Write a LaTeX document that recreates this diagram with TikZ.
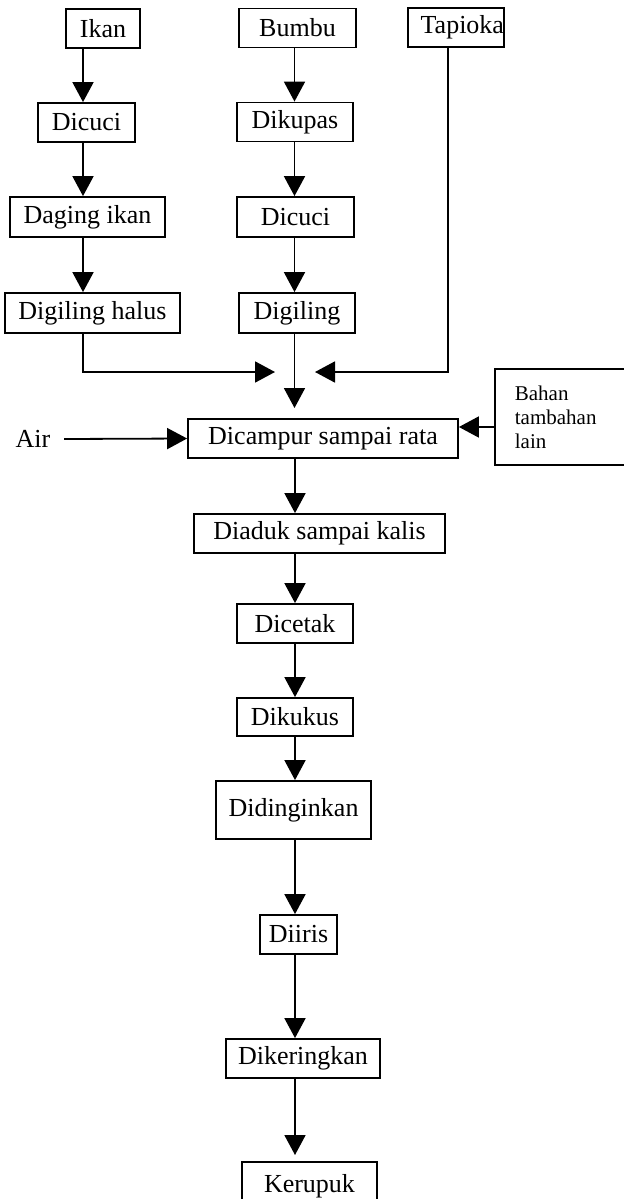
\documentclass[tikz,border=0pt]{standalone}
\usepackage{fontspec}
\setmainfont{Liberation Serif}
\usetikzlibrary{arrows.meta}
\tikzset{>={Triangle[length=10pt,width=10.5pt]}}
\tikzset{kotak/.style={draw, line width=0.9pt, inner sep=0pt, minimum height=19.5pt, font=\fontsize{13}{15}\selectfont}}

\begin{document}
\begin{tikzpicture}[x=0.5pt, y=-0.5pt, line width=0.9pt]
    \useasboundingbox (0,0) rectangle (623,1199);
    \coordinate (kiri) at (83,0);
    \coordinate (tengah) at (294.5,0);
    \coordinate (kanan) at (448,0);
    \coordinate (pusat) at (295,0);
    \node[kotak, minimum width=37pt] (ikan) at (103,28.5) {Ikan};
    \node[kotak, minimum width=48.5pt] (dicuci) at (86.5,122.5) {Dicuci};
    \node[kotak, minimum width=77.5pt, minimum height=20pt] (daging) at (87.5,217) {Daging ikan};
    \node[kotak, minimum width=87.5pt, minimum height=20pt] (halus) at (92.5,313) {Digiling halus};
    \node[kotak, minimum width=58.5pt] (bumbu) at (297.5,28) {Bumbu};
    \node[kotak, minimum width=58pt] (kupas) at (295,122) {Dikupas};
    \node[kotak, minimum width=58.5pt, minimum height=20pt] (cuci) at (295.5,217) {Dicuci};
    \node[kotak, minimum width=58pt, minimum height=20pt] (giling) at (297,313) {Digiling};
    \node[kotak, text width=48pt, align=right] (tapioka) at (456,27.5) {Tapioka};
    \node[kotak, minimum width=135pt] (campur) at (323,438.5) {Dicampur sampai rata};
    \node[font=\fontsize{13}{15}\selectfont, inner sep=0pt] (air) at (33,439) {Air};
    \node[draw, line width=0.9pt, anchor=west, minimum height=48pt, text width=64pt, inner xsep=10pt, align=left,
          font=\fontsize{10.5}{12}\selectfont] (bahan) at (494,417) {Bahan\\tambahan\\lain};
    \node[kotak, minimum width=125.5pt] (aduk) at (319.5,533.5) {Diaduk sampai kalis};
    \node[kotak, minimum width=58pt] (cetak) at (295,623.5) {Dicetak};
    \node[kotak, minimum width=58pt, minimum height=19pt] (kukus) at (295,717) {Dikukus};
    \node[kotak, minimum width=77.5pt, minimum height=29pt] (dingin) at (293.5,810) {Didinginkan};
    \node[kotak, minimum width=38.5pt] (iris) at (298.5,934.5) {Diiris};
    \node[kotak, minimum width=77pt] (kering) at (303,1058.5) {Dikeringkan};
    \node[kotak, minimum width=67.5pt, minimum height=24pt] (kerupuk) at (309.5,1186) {Kerupuk};
    \coordinate (ujungkiri) at (275,372);
    \coordinate (ujungkanan) at (315,372);
    \coordinate (ujungbawah) at (294.5,408);
    \coordinate (ujungakhir) at (295,1155);
    \coordinate (bahanpanah) at ([yshift=-5pt]bahan.west);
    \foreach \a/\b in {ikan/dicuci, dicuci/daging, daging/halus}
        \draw[->] (\a.south -| kiri) -- (\b.north -| kiri);
    \foreach \a/\b in {bumbu/kupas, kupas/cuci, cuci/giling}
        \draw[->] (\a.south -| tengah) -- (\b.north -| tengah);
    \draw[->] (halus.south -| kiri) |- (ujungkiri);
    \draw[->] (tapioka.south -| kanan) |- (ujungkanan);
    \draw[->] (giling.south -| tengah) -- (ujungbawah);
    \draw[->] ([xshift=6.5pt]air.east) -- (campur.west);
    \draw[->] (bahanpanah) -- (bahanpanah -| campur.east);
    \foreach \a/\b in {campur/aduk, aduk/cetak, cetak/kukus, kukus/dingin, dingin/iris, iris/kering}
        \draw[->] (\a.south -| pusat) -- (\b.north -| pusat);
    \draw[->] (kering.south -| pusat) -- (ujungakhir);
\end{tikzpicture}
\end{document}
